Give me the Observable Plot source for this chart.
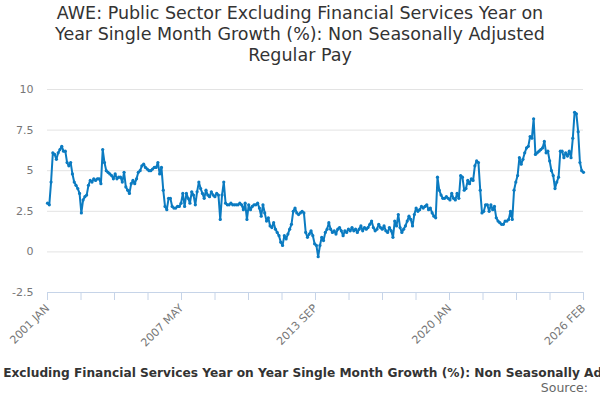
<!DOCTYPE html>
<html><head><meta charset="utf-8">
<script src="https://cdn.jsdelivr.net/npm/d3@7"></script>
<script src="https://cdn.jsdelivr.net/npm/@observablehq/plot@0.6"></script>
<style>
body{margin:0;width:600px;height:400px;overflow:hidden;font-family:"DejaVu Sans",sans-serif;background:#fff}
#title{text-align:center;font-size:17.5px;color:#333;line-height:21px;padding-top:3px;height:72px}
#leg{width:600px;overflow:hidden;white-space:nowrap;display:flex;justify-content:center;font-size:12.2px;font-weight:bold;color:#333;margin-top:4px}
#src{text-align:right;font-size:12.5px;color:#666;padding-right:12px}
</style></head><body>
<div id="title">AWE: Public Sector Excluding Financial Services Year on<br>Year Single Month Growth (%): Non Seasonally Adjusted<br>Regular Pay</div>
<div id="chart"></div>
<div id="leg"><span>AWE: Public Sector Excluding Financial Services Year on Year Single Month Growth (%): Non Seasonally Adjusted Regular Pay</span></div>
<div id="src">Source:</div>
<script>
const startYear = 2001;
const tickLabels = ["2001 JAN","2007 MAY","2013 SEP","2020 JAN","2026 FEB"];
const yTicks = [-2.5,0,2.5,5,7.5,10];
const v2001=[3.0,2.9,4.3,6.1,6.0,5.7,6.1,6.3,6.5,6.2,6.2,5.5];
const v2002=[5.3,5.5,4.8,4.3,4.1,3.9,3.6,2.4,3.2,3.4,3.5,4.1];
const v2003=[4.4,4.3,4.5,4.4,4.5,4.5,4.2,6.3,5.5,5.0,4.9,4.8];
const v2004=[4.7,4.5,4.8,4.5,4.6,4.6,4.3,4.9,4.0,3.8,3.6,4.2];
const v2005=[4.4,4.2,4.5,4.9,5.0,5.3,5.4,5.2,5.1,5.0,5.0,5.1];
const v2006=[5.2,5.2,5.5,4.8,5.2,3.8,2.8,2.6,3.3,3.3,2.8,2.7];
const v2007=[2.7,2.8,2.8,3.0,3.6,2.8,3.6,3.3,3.0,3.7,3.5,2.9];
const v2008=[3.7,4.3,3.9,3.6,3.3,3.8,3.5,3.4,3.7,3.5,3.4,3.6];
const v2009=[3.5,2.0,3.5,4.3,3.0,2.9,2.9,3.0,2.9,2.9,2.9,2.9];
const v2010=[3.0,2.9,2.6,3.0,2.0,2.9,2.6,2.8,2.9,2.9,3.0,2.7];
const v2011=[2.2,2.9,2.4,1.9,2.1,1.6,1.5,1.8,1.4,1.2,1.0,0.6];
const v2012=[0.4,1.0,0.8,1.1,1.4,1.7,2.5,2.7,2.4,2.3,2.4,2.5];
const v2013=[2.4,1.2,0.9,1.1,1.3,1.0,0.5,0.4,-0.3,0.4,0.9,0.7];
const v2014=[1.2,1.4,1.8,1.4,1.2,1.3,1.1,1.4,1.5,1.3,1.0,1.3];
const v2015=[1.2,1.4,1.3,1.5,1.3,1.4,1.2,1.4,1.6,1.3,1.5,1.4];
const v2016=[1.5,1.7,1.9,1.5,1.3,1.4,1.7,1.5,1.4,1.6,1.3,1.2];
const v2017=[1.5,1.3,0.9,1.9,1.6,2.3,1.5,1.2,1.4,1.6,1.9,2.2];
const v2018=[2.0,1.6,2.3,2.7,2.5,2.6,2.8,2.7,2.8,2.9,2.6,2.7];
const v2019=[2.4,2.2,2.1,4.6,3.8,3.5,3.3,3.3,3.4,3.3,3.2,3.6];
const v2020=[3.3,3.2,3.6,3.3,4.7,4.6,3.8,3.9,4.4,4.2,4.5,4.4];
const v2021=[5.3,5.6,5.5,3.8,2.4,2.5,2.9,2.9,2.5,2.9,2.6,2.8];
const v2022=[2.1,1.9,1.8,1.7,1.7,1.9,1.9,2.0,2.5,2.0,3.8,4.3];
const v2023=[4.7,5.8,5.4,5.7,6.1,6.4,6.5,7.1,7.0,8.2,6.0,6.1];
const v2024=[6.2,6.3,6.4,6.8,6.1,6.2,5.6,5.0,4.7,3.9,4.3,4.6];
const v2025=[6.2,6.2,5.8,6.1,5.9,6.2,5.8,7.0,8.6,8.5,7.4,5.5];
const v2026=[5.0,4.9];
const values=[].concat(v2001,v2002,v2003,v2004,v2005,v2006,v2007,v2008,v2009,v2010,v2011,v2012,v2013,v2014,v2015,v2016,v2017,v2018,v2019,v2020,v2021,v2022,v2023,v2024,v2025,v2026);
const data=values.map((v,i)=>({i,v}));
const n=values.length-1;
const xt=d3.range(17).map(k=>k*n/16);
const col="#0b7bc1";
const chart=Plot.plot({
  width:600,height:287,marginLeft:47,marginRight:17,marginTop:14,marginBottom:70,
  style:{fontFamily:"DejaVu Sans",fontSize:"11px",color:"#777"},
  x:{domain:[0,n],ticks:xt,tickFormat:(d,k)=>k%4===0?tickLabels[k/4]:"",tickRotate:-45,tickSize:8,label:null},
  y:{domain:[-2.5,10],ticks:yTicks,tickFormat:d=>String(d),tickSize:0,tickPadding:14,label:null,grid:false},
  marks:[
    Plot.gridY(yTicks,{stroke:"#e3e3e3",strokeOpacity:1}),
    Plot.ruleY([-2.5],{stroke:"#c6d4e8"}),
    Plot.line(data,{x:"i",y:"v",stroke:col,strokeWidth:2}),
    Plot.dot(data,{x:"i",y:"v",fill:col,r:1.6})
  ]
});
chart.querySelectorAll('[aria-label="x-axis tick"] line, [aria-label="x-axis tick"] path').forEach(e=>e.setAttribute("stroke","#c6d4e8"));
document.getElementById("chart").appendChild(chart);
</script></body></html>
